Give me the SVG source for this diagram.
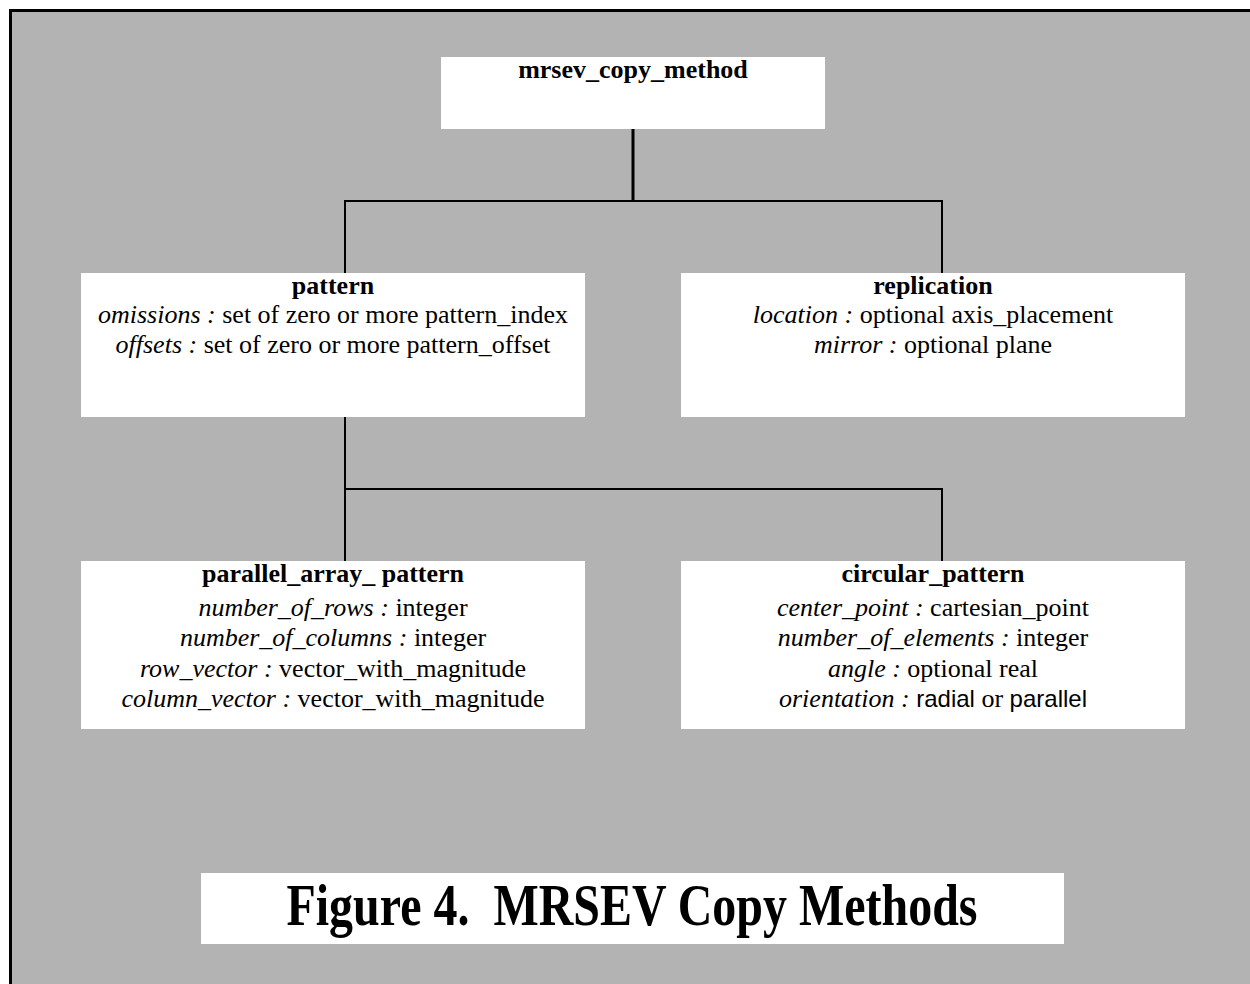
<svg xmlns="http://www.w3.org/2000/svg" width="1250" height="984" viewBox="0 0 1250 984">
<style>
.box{fill:#ffffff;stroke:none}
.ln{stroke:#000;stroke-width:2;fill:none}
.t{font-family:"Liberation Serif","Times New Roman",serif;font-size:26px;fill:#000;text-anchor:middle}
.b{font-weight:bold}
.i{font-style:italic}
.a{font-family:"Liberation Sans",Arial,sans-serif;font-size:24px}
</style>
<rect x="0" y="0" width="1250" height="984" fill="#ffffff"/>
<rect x="10.5" y="10.5" width="1260" height="990" fill="#b3b3b3" stroke="#000" stroke-width="3"/>
<g id="connectors">
<line class="ln" x1="633" y1="129" x2="633" y2="201" style="stroke-width:3"/>
<line class="ln" x1="345" y1="201" x2="943" y2="201"/>
<line class="ln" x1="345" y1="200" x2="345" y2="273"/>
<line class="ln" x1="942" y1="200" x2="942" y2="273"/>
<line class="ln" x1="345" y1="417" x2="345" y2="561"/>
<line class="ln" x1="344" y1="489" x2="943" y2="489"/>
<line class="ln" x1="942" y1="488" x2="942" y2="561"/>
</g>
<g id="mrsev_copy_method">
<rect class="box" x="441" y="57" width="384" height="72"/>
<text class="t b" x="633" y="78">mrsev_copy_method</text>
</g>
<g id="pattern">
<rect class="box" x="81" y="273" width="504" height="144"/>
<text class="t b" x="333" y="294">pattern</text>
<text class="t" x="333" y="323"><tspan class="i">omissions :</tspan> set of zero or more pattern_index</text>
<text class="t" x="333" y="353"><tspan class="i">offsets :</tspan> set of zero or more pattern_offset</text>
</g>
<g id="replication">
<rect class="box" x="681" y="273" width="504" height="144"/>
<text class="t b" x="933" y="294">replication</text>
<text class="t" x="933" y="323"><tspan class="i">location :</tspan> optional axis_placement</text>
<text class="t" x="933" y="353"><tspan class="i">mirror :</tspan> optional plane</text>
</g>
<g id="parallel_array_pattern">
<rect class="box" x="81" y="561" width="504" height="168"/>
<text class="t b" x="333" y="582">parallel_array_ pattern</text>
<text class="t" x="333" y="616"><tspan class="i">number_of_rows :</tspan> integer</text>
<text class="t" x="333" y="646"><tspan class="i">number_of_columns :</tspan> integer</text>
<text class="t" x="333" y="677"><tspan class="i">row_vector :</tspan> vector_with_magnitude</text>
<text class="t" x="333" y="707"><tspan class="i">column_vector :</tspan> vector_with_magnitude</text>
</g>
<g id="circular_pattern">
<rect class="box" x="681" y="561" width="504" height="168"/>
<text class="t b" x="933" y="582">circular_pattern</text>
<text class="t" x="933" y="616"><tspan class="i">center_point :</tspan> cartesian_point</text>
<text class="t" x="933" y="646"><tspan class="i">number_of_elements :</tspan> integer</text>
<text class="t" x="933" y="677"><tspan class="i">angle :</tspan> optional real</text>
<text class="t" x="933" y="707"><tspan class="i">orientation : </tspan><tspan class="a">radial</tspan> or <tspan class="a">parallel</tspan></text>
</g>
<g id="caption">
<rect class="box" x="201" y="873" width="863" height="71"/>
<text class="t b" x="632" y="925" style="font-size:60px;white-space:pre" xml:space="preserve" textLength="691" lengthAdjust="spacingAndGlyphs">Figure 4.  MRSEV Copy Methods</text>
</g>
</svg>
